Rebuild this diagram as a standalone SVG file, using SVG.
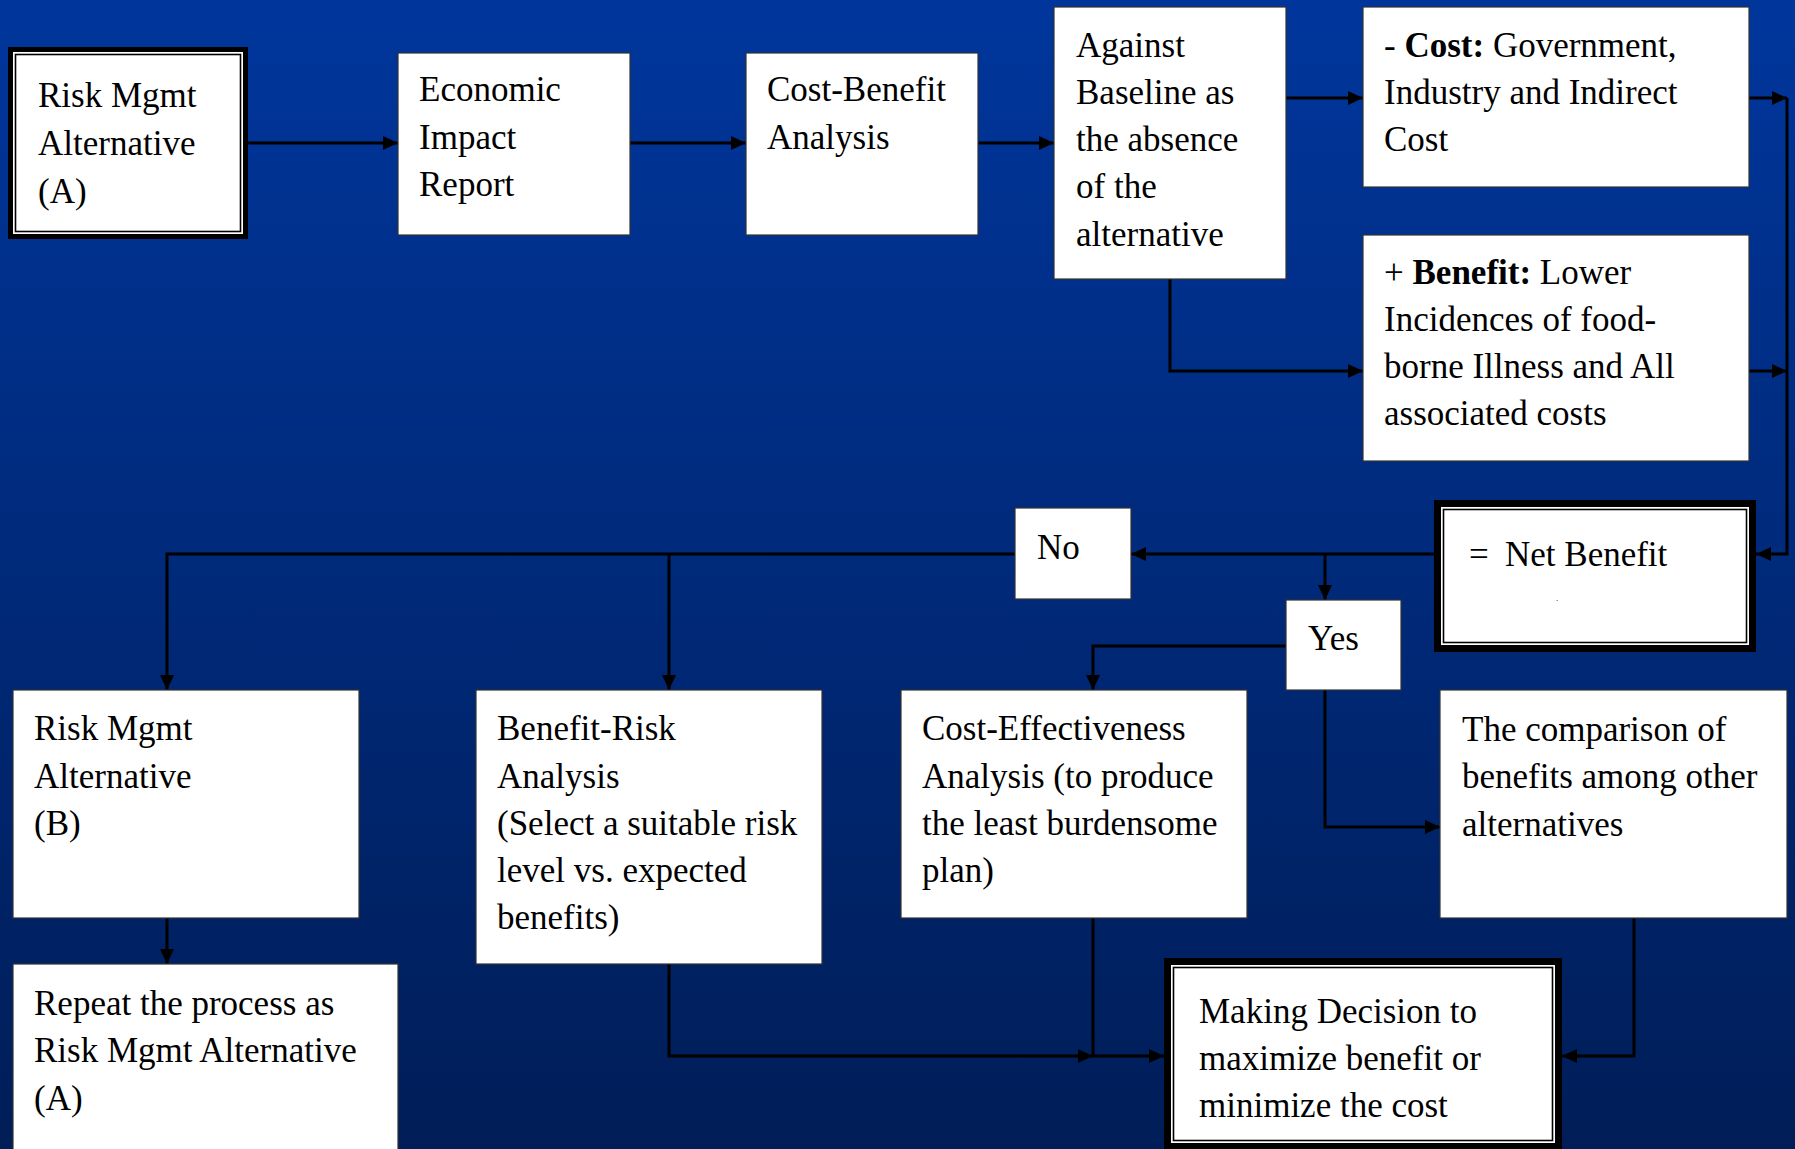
<svg xmlns="http://www.w3.org/2000/svg" width="1795" height="1149" viewBox="0 0 1795 1149">
<defs>
<linearGradient id="bg" x1="0" y1="0" x2="0" y2="1">
<stop offset="0" stop-color="#00369c"/>
<stop offset="1" stop-color="#001d57"/>
</linearGradient>
<marker id="ah" markerUnits="userSpaceOnUse" markerWidth="16" markerHeight="14" refX="15" refY="7" orient="auto">
<path d="M0,0 L15,7 L0,14 z" fill="#000"/>
</marker>
<style>
.box{fill:#fff;stroke:#333;stroke-width:1.2}
.outer{fill:#000}
.inner{fill:#fff}
.thin{fill:none;stroke:#000;stroke-width:1.6}
.t{font-family:"Liberation Serif","Times New Roman",serif;font-size:35px;fill:#000}
.dot{font-family:"Liberation Serif","Times New Roman",serif;font-size:9px;fill:#000}
.c{fill:none;stroke:#000;stroke-width:3;marker-end:url(#ah)}
</style>
</defs>
<rect x="0" y="0" width="1795" height="1149" fill="url(#bg)"/>

<g id="connectors">
<path class="c" d="M248,143 H398"/>
<path class="c" d="M630,143 H746"/>
<path class="c" d="M978,143 H1054"/>
<path class="c" d="M1286,98 H1363"/>
<path class="c" d="M1170,279 V371 H1363"/>
<path class="c" d="M1749,98 H1787"/>
<path class="c" d="M1749,371 H1787"/>
<path class="c" d="M1787,98 V554 H1756"/>
<path class="c" d="M1434,554 H1131"/>
<path class="c" d="M1015,554 H167 V690"/>
<path class="c" d="M669,554 V690"/>
<path class="c" d="M1325,554 V600"/>
<path class="c" d="M1286,646 H1093 V690"/>
<path class="c" d="M1325,690 V827 H1440"/>
<path class="c" d="M167,918 V964"/>
<path class="c" d="M669,964 V1056 H1093"/>
<path class="c" d="M1093,918 V1056 H1164"/>
<path class="c" d="M1634,918 V1056 H1562"/>
</g>

<g id="riskA">
<rect class="outer" x="8" y="47" width="240" height="192"/>
<rect class="inner" x="13" y="52" width="230" height="182"/>
<rect class="thin" x="15.5" y="54.5" width="225" height="177"/>
<text class="t" x="38" y="107">Risk Mgmt</text>
<text class="t" x="38" y="155">Alternative</text>
<text class="t" x="38" y="203">(A)</text>
</g>

<g id="economic">
<rect class="box" x="398" y="53" width="232" height="182"/>
<text class="t" x="419" y="101">Economic</text>
<text class="t" x="419" y="149">Impact</text>
<text class="t" x="419" y="196">Report</text>
</g>

<g id="costbenefit">
<rect class="box" x="746" y="53" width="232" height="182"/>
<text class="t" x="767" y="101">Cost-Benefit</text>
<text class="t" x="767" y="149">Analysis</text>
</g>

<g id="against">
<rect class="box" x="1054" y="7" width="232" height="272"/>
<text class="t" x="1076" y="57">Against</text>
<text class="t" x="1076" y="104">Baseline as</text>
<text class="t" x="1076" y="151">the absence</text>
<text class="t" x="1076" y="198">of the</text>
<text class="t" x="1076" y="246">alternative</text>
</g>

<g id="cost">
<rect class="box" x="1363" y="7" width="386" height="180"/>
<text class="t" x="1384" y="57">- <tspan font-weight="bold">Cost:</tspan> Government,</text>
<text class="t" x="1384" y="104">Industry and Indirect</text>
<text class="t" x="1384" y="151">Cost</text>
</g>

<g id="benefit">
<rect class="box" x="1363" y="235" width="386" height="226"/>
<text class="t" x="1384" y="284">+ <tspan font-weight="bold">Benefit:</tspan> Lower</text>
<text class="t" x="1384" y="331">Incidences of food-</text>
<text class="t" x="1384" y="378">borne Illness and All</text>
<text class="t" x="1384" y="425">associated costs</text>
</g>

<g id="netbenefit">
<rect class="outer" x="1434" y="500" width="322" height="152"/>
<rect class="inner" x="1441" y="507" width="308" height="138"/>
<rect class="thin" x="1443.5" y="509.5" width="303" height="133"/>
<text class="t" x="1469" y="566">=</text>
<text class="t" x="1505" y="566">Net Benefit</text>
<text class="dot" x="1556" y="601">.</text>
</g>

<g id="no">
<rect class="box" x="1015" y="508" width="116" height="91" stroke="none"/>
<text class="t" x="1037" y="559">No</text>
</g>

<g id="yes">
<rect class="box" x="1286" y="600" width="115" height="90" stroke="none"/>
<text class="t" x="1308" y="650">Yes</text>
</g>

<g id="riskB">
<rect class="box" x="13" y="690" width="346" height="228"/>
<text class="t" x="34" y="740">Risk Mgmt</text>
<text class="t" x="34" y="788">Alternative</text>
<text class="t" x="34" y="835">(B)</text>
</g>

<g id="repeat">
<rect class="box" x="13" y="964" width="385" height="190"/>
<text class="t" x="34" y="1015">Repeat the process as</text>
<text class="t" x="34" y="1062">Risk Mgmt Alternative</text>
<text class="t" x="34" y="1110">(A)</text>
</g>

<g id="benefitrisk">
<rect class="box" x="476" y="690" width="346" height="274"/>
<text class="t" x="497" y="740">Benefit-Risk</text>
<text class="t" x="497" y="788">Analysis</text>
<text class="t" x="497" y="835">(Select a suitable risk</text>
<text class="t" x="497" y="882">level vs. expected</text>
<text class="t" x="497" y="929">benefits)</text>
</g>

<g id="costeff">
<rect class="box" x="901" y="690" width="346" height="228"/>
<text class="t" x="922" y="740">Cost-Effectiveness</text>
<text class="t" x="922" y="788">Analysis (to produce</text>
<text class="t" x="922" y="835">the least burdensome</text>
<text class="t" x="922" y="882">plan)</text>
</g>

<g id="comparison">
<rect class="box" x="1440" y="690" width="347" height="228"/>
<text class="t" x="1462" y="741">The comparison of</text>
<text class="t" x="1462" y="788">benefits among other</text>
<text class="t" x="1462" y="836">alternatives</text>
</g>

<g id="decision">
<rect class="outer" x="1164" y="958" width="398" height="192"/>
<rect class="inner" x="1171" y="965" width="384" height="178"/>
<rect class="thin" x="1173.5" y="967.5" width="379" height="173"/>
<text class="t" x="1199" y="1023">Making Decision to</text>
<text class="t" x="1199" y="1070">maximize benefit or</text>
<text class="t" x="1199" y="1117">minimize the cost</text>
</g>
</svg>
